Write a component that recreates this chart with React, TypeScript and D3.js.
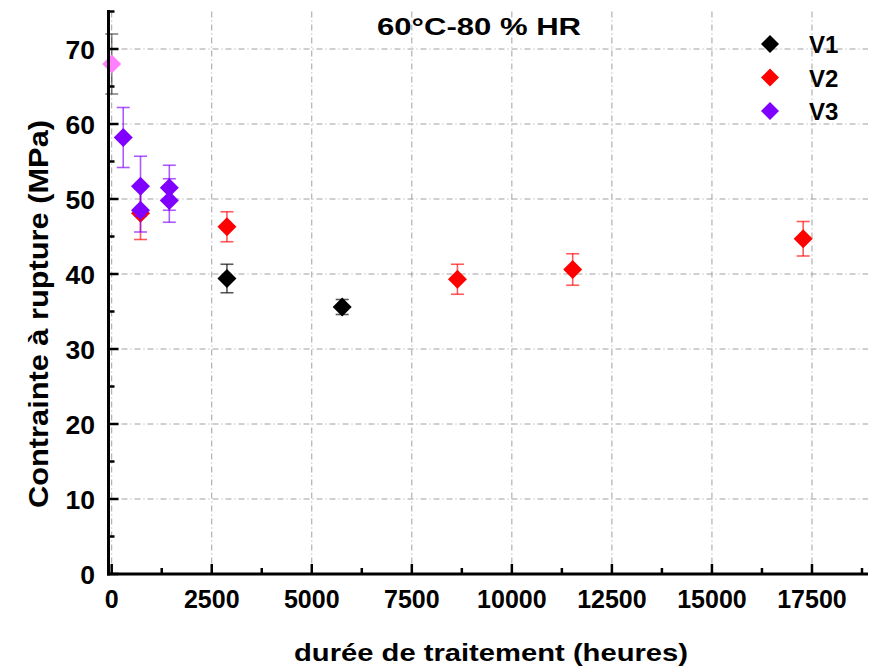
import React from 'react';
import * as d3 from 'd3';

const xTicks = [0, 2500, 5000, 7500, 10000, 12500, 15000, 17500];
const yTicks = [0, 10, 20, 30, 40, 50, 60, 70];
const legendLabels = ['V1', 'V2', 'V3'];

// pink reference point (not in legend)
const v0X = [0];
const v0Y = [68.0];
const v0Err = [4.0];

const v1X = [2880, 5760];
const v1Y = [39.4, 35.6];
const v1Err = [1.9, 1.0];

const v2X = [720, 2880, 8640, 11520, 17280];
const v2Y = [48.1, 46.3, 39.3, 40.6, 44.7];
const v2Err = [3.5, 2.0, 2.0, 2.1, 2.3];

const v3X = [288, 720, 720, 1440, 1440];
const v3Y = [58.2, 51.7, 48.5, 51.5, 49.8];
const v3Err = [4.0, 4.0, 2.9, 3.0, 2.9];

const FONT = "'Liberation Sans', Arial, sans-serif";

export default function App() {
  const x = d3.scaleLinear().domain([-80, 18900]).range([108.5, 868]);
  const y = d3.scaleLinear().domain([0, 75]).range([574, 11.5]);

  const xMinor = d3.range(0, 18751, 1250).filter((v) => v % 2500 !== 0);
  const yMinor = d3.range(5, 76, 10);

  const series = [
    { xs: v0X, ys: v0Y, es: v0Err, color: '#ff80ff', errColor: '#404040' },
    { xs: v1X, ys: v1Y, es: v1Err, color: '#000000', errColor: '#000000' },
    { xs: v2X, ys: v2Y, es: v2Err, color: '#ff0000', errColor: '#ff0000' },
    { xs: v3X, ys: v3Y, es: v3Err, color: '#8000ff', errColor: '#8000ff' },
  ];
  const legendColors = ['#000000', '#ff0000', '#8000ff'];

  const diamond = (cx: number, cy: number, r: number) =>
    `M${cx},${cy - r}L${cx + r},${cy}L${cx},${cy + r}L${cx - r},${cy}Z`;

  const gridStyle = { stroke: '#a0a0a0', strokeWidth: 1, strokeDasharray: '6,3,1,3' };

  return (
    <svg width={877} height={670} style={{ position: 'absolute', left: 0, top: 0, background: '#fff' }}
      fontFamily={FONT} fontWeight="bold">
      <rect x={0} y={0} width={877} height={670} fill="#fff" />
      {/* grid */}
      {xTicks.map((t) => (
        <line key={'gx' + t} x1={x(t)} x2={x(t)} y1={y(75)} y2={y(0)} {...gridStyle} />
      ))}
      {yTicks.filter((t) => t > 0).map((t) => (
        <line key={'gy' + t} x1={x(-80)} x2={868} y1={y(t)} y2={y(t)} {...gridStyle} />
      ))}

      {/* data */}
      {series.map((s, si) => (
        <g key={'s' + si}>
          {s.xs.map((xv, i) => {
            const cx = x(xv);
            const top = y(s.ys[i] + s.es[i]);
            const bot = y(s.ys[i] - s.es[i]);
            return (
              <g key={'e' + i} stroke={s.errColor} strokeOpacity={0.65} strokeWidth={1.6}>
                <line x1={cx} x2={cx} y1={top} y2={bot} />
                <line x1={cx - 6.5} x2={cx + 6.5} y1={top} y2={top} />
                <line x1={cx - 6.5} x2={cx + 6.5} y1={bot} y2={bot} />
              </g>
            );
          })}
          {s.xs.map((xv, i) => (
            <path key={'m' + i} d={diamond(x(xv), y(s.ys[i]), 9.5)} fill={s.color} />
          ))}
        </g>
      ))}

      {/* axes */}
      <line x1={108.5} x2={108.5} y1={10} y2={575.5} stroke="#000" strokeWidth={3} />
      <line x1={107} x2={868} y1={574} y2={574} stroke="#000" strokeWidth={3} />
      {yTicks.map((t) => (
        <line key={'ty' + t} x1={108.5} x2={118.5} y1={y(t)} y2={y(t)} stroke="#000" strokeWidth={2.5} />
      ))}
      {yMinor.map((t) => (
        <line key={'tym' + t} x1={108.5} x2={114.5} y1={y(t)} y2={y(t)} stroke="#000" strokeWidth={2.5} />
      ))}
      {xTicks.map((t) => (
        <line key={'tx' + t} x1={x(t)} x2={x(t)} y1={574} y2={564} stroke="#000" strokeWidth={2.5} />
      ))}
      {xMinor.map((t) => (
        <line key={'txm' + t} x1={x(t)} x2={x(t)} y1={574} y2={568} stroke="#000" strokeWidth={2.5} />
      ))}

      {/* tick labels */}
      {yTicks.map((t) => (
        <text key={'ly' + t} x={95} y={y(t) + 9.5} textAnchor="end" fontSize={26.5} fill="#000">{t}</text>
      ))}
      {xTicks.map((t) => (
        <text key={'lx' + t} x={x(t)} y={608} textAnchor="middle" fontSize={25} fill="#000">{t}</text>
      ))}

      {/* titles */}
      <text x={479} y={35} textAnchor="middle" fontSize={24} textLength={204} lengthAdjust="spacingAndGlyphs">60°C-80 % HR</text>
      <text x={491} y={661} textAnchor="middle" fontSize={24.5} textLength={394} lengthAdjust="spacingAndGlyphs">durée de traitement (heures)</text>
      <text transform="translate(48,314) rotate(-90)" textAnchor="middle" fontSize={27} textLength={388} lengthAdjust="spacingAndGlyphs">Contrainte à rupture (MPa)</text>

      {/* legend */}
      {legendLabels.map((l, i) => (
        <g key={'lg' + l}>
          <path d={diamond(770, 44 + i * 33.5, 9)} fill={legendColors[i]} />
          <text x={809} y={44 + i * 33.5 + 9} fontSize={24} fill="#000">{l}</text>
        </g>
      ))}
    </svg>
  );
}
